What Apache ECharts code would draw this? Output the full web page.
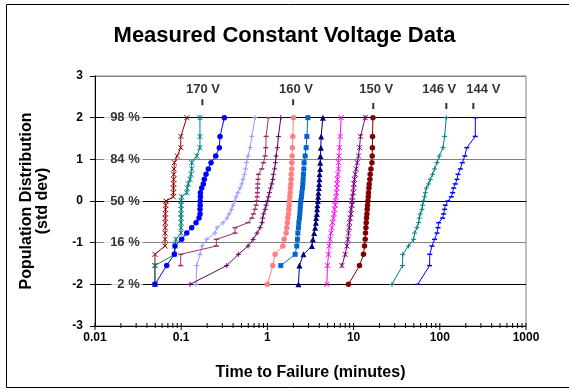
<!DOCTYPE html>
<html>
<head>
<meta charset="utf-8">
<script src="https://cdn.jsdelivr.net/npm/echarts@6/dist/echarts.min.js"></script>
<style>
  html, body { margin: 0; padding: 0; background: #fff; }
  #chart { width: 569px; height: 389px; }
</style>
</head>
<body>
<div id="chart"></div>
<script>
// rank positions (std dev) shared by every voltage set
var zPos = [-2.0, -1.55, -1.28, -1.08, -0.92, -0.77, -0.64, -0.52, -0.41, -0.31, -0.2, -0.1, 0,
            0.1, 0.2, 0.31, 0.41, 0.52, 0.64, 0.77, 0.92, 1.08, 1.28, 1.55, 2.0];

// failure times in minutes, one list per sample set (null = no point at that rank)
var t1  = [0.0496, 0.0496, 0.0496, 0.0648, 0.065, 0.065, 0.0652, 0.0652, 0.0655, 0.0655, 0.0658, 0.066, 0.0666, 0.081, 0.0812, 0.0814, 0.0816, 0.0818, 0.082, 0.0825, 0.0832, 0.09, 0.0987, 0.099, 0.116];
var t2  = [0.0496, 0.0496, 0.0847, 0.0847, 0.087, 0.0995, 0.0995, 0.0995, 0.0998, 0.0998, 0.1, 0.1, 0.1, 0.1013, 0.116, 0.1177, 0.1209, 0.1265, 0.13, 0.1324, 0.1324, 0.1514, 0.165, 0.165, 0.165];
var t3  = [0.0496, 0.0679, 0.0832, 0.0847, 0.1013, 0.1159, 0.1324, 0.1485, 0.161, 0.1654, 0.1654, 0.166, 0.166, 0.167, 0.167, 0.173, 0.1806, 0.1855, 0.1941, 0.2064, 0.2219, 0.2516, 0.277, 0.2822, 0.3167];
var t4  = [0.1485, 0.1514, 0.1654, 0.1744, 0.1978, 0.2469, 0.2604, 0.3058, 0.3404, 0.359, 0.3838, 0.3996, 0.4214, 0.4329, 0.4567, 0.4819, 0.5043, 0.5222, 0.5407, 0.5583, 0.5734, 0.5968, 0.6296, 0.6588, 0.7197];
var t5  = [null, 0.0987, 0.0987, 0.2557, 0.2557, 0.4214, 0.4214, 0.5968, 0.6588, 0.6877, 0.7197, 0.7393, 0.7532, 0.7593, 0.7654, 0.7695, 0.7736, 0.7798, 0.786, 0.861, 0.8987, 0.9403, 0.958, 0.9658, 1.027];
var t6  = [0.1265, 0.3377, 0.4604, 0.5968, 0.6823, 0.7593, 0.8227, 0.868, 0.8797, 0.9034, 0.9403, 0.9658, 1.005, 1.027, 1.055, 1.089, 1.125, 1.155, 1.174, 1.212, 1.239, 1.262, 1.306, 1.342, 1.431];
var t7  = [1.0, 1.155, 1.229, 1.51, 1.563, 1.649, 1.68, 1.707, 1.725, 1.754, 1.772, 1.786, 1.801, 1.82, 1.835, 1.849, 1.869, 1.885, 1.89, 1.92, 1.925, 1.936, 1.951, 1.972, 2.004];
var t8  = [null, 1.431, 2.098, 2.195, 2.231, 2.255, 2.291, 2.316, 2.353, 2.378, 2.397, 2.416, 2.442, 2.482, 2.509, 2.55, 2.577, 2.598, 2.619, 2.647, 2.668, 2.741, 2.815, 2.868, 2.946];
var t9  = [2.291, 2.353, 2.619, 3.28, 3.368, 3.487, 3.581, 3.649, 3.678, 3.747, 3.777, 3.808, 3.849, 3.881, 3.911, 3.954, 3.985, 4.017, 4.03, 4.093, 4.1, 4.126, 4.17, 4.204, 4.4];
var t10 = [4.897, 4.977, 5.112, 5.208, 5.349, 5.45, 5.597, 5.688, 5.842, 5.952, 6.0, 6.113, 6.162, 6.28, 6.331, 6.397, 6.449, 6.501, 6.572, 6.678, 6.69, 6.75, 6.859, 6.989, 7.178];
var t11 = [null, 7.313, 7.989, 8.361, 8.587, 8.726, 8.89, 8.962, 9.131, 9.303, 9.378, 9.556, 9.632, 9.71, 9.894, 9.972, 10.08, 10.24, 10.44, 10.72, 11.01, 11.4, 11.71, 12.03, 13.64];
var t12 = [8.726, 11.71, 13.03, 13.38, 13.64, 13.75, 13.9, 14.01, 14.12, 14.27, 14.39, 14.5, 14.66, 14.78, 14.9, 15.06, 15.18, 15.47, 15.59, 15.89, 16.32, 16.44, 16.5, 16.58, 16.76];
var t13 = [27.86, 36.98, 37.18, 43.41, 49.63, 50.97, 54.35, 56.73, 57.8, 59.36, 62.13, 63.13, 64.84, 66.6, 67.86, 69.69, 74.13, 77.58, 82.48, 87.01, 92.8, 98.67, 108.9, 113.7, 119.0];
var t14 = [55.53, 76.13, 76.5, 81.17, 87.01, 92.8, 95.3, 96.83, 107.8, 110.7, 113.7, 115.8, 124.5, 136.0, 140.8, 144.6, 151.4, 158.4, 162.7, 173.0, 182.5, 195.1, 205.9, 258, 258.4];

// annotations
var voltLabels = ['170 V', '160 V', '150 V', '146 V', '144 V'];
var voltLabelX = [0.179, 2.15, 18.3, 98.6, 320];
var voltTickX  = [0.176, 1.99, 16.9, 119, 245];
var voltTickZ  = [2.37, 2.37, 2.28, 2.28, 2.28];
var pctLabels = ['98 %', '84 %', '50 %', '16 %', '2 %'];
var pctZ = [2, 1, 0, -1, -2];
var xTickLabels = ['0.01', '0.1', '1', '10', '100', '1000'];

var FONT = '"Liberation Sans", Arial, sans-serif';
var X_MARK = 'path://M0,0L10,10M10,0L0,10';
var STAR_MARK = 'path://M0,0L10,10M10,0L0,10M5,0L5,10';
var PLUS_MARK = 'path://M5,0L5,10M0,5L10,5';

function pairs(times) {
    var out = [];
    for (var i = 0; i < times.length; i++) {
        if (times[i] != null) out.push([times[i], zPos[i]]);
    }
    return out;
}

function lineSeries(times, color, symbol, size) {
    var stroked = symbol.indexOf('path://') == 0;
    return {
        type: 'line',
        data: pairs(times),
        symbol: symbol,
        symbolSize: size,
        showAllSymbol: true,
        lineStyle: { color: color, width: 1 },
        itemStyle: { color: color, borderColor: color, borderWidth: stroked ? 1 : 0 },
        emphasis: { disabled: true },
        z: 3
    };
}

// minor/major tick values on the log axis
var xTicks = [];
for (var e = -2; e <= 3; e++) {
    for (var m = 1; m <= 9; m++) {
        if (e == 3 && m > 1) break;
        xTicks.push([m * Math.pow(10, e), m == 1 ? 1 : 0]);
    }
}

var chart = echarts.init(document.getElementById('chart'), null, { renderer: 'canvas' });

var series = [
    lineSeries(t1, '#990000', X_MARK, 5),
    lineSeries(t2, '#008080', STAR_MARK, 5),
    lineSeries(t3, '#0000FF', 'circle', 5.5),
    lineSeries(t4, '#9999FF', PLUS_MARK, 5),
    lineSeries(t5, '#993366', 'rect', [5, 1.5]),
    lineSeries(t6, '#660066', PLUS_MARK, 5),
    lineSeries(t7, '#FF8080', 'circle', 5.5),
    lineSeries(t8, '#0066CC', 'rect', 5),
    lineSeries(t9, '#000080', 'triangle', 6),
    lineSeries(t10, '#FF00FF', X_MARK, 5),
    lineSeries(t11, '#800080', STAR_MARK, 5),
    lineSeries(t12, '#800000', 'circle', 5.5),
    lineSeries(t13, '#008080', PLUS_MARK, 5),
    lineSeries(t14, '#0000FF', 'rect', [5, 1.5]),
    {
        // voltage captions
        type: 'scatter',
        symbol: 'rect',
        symbolSize: 1,
        itemStyle: { color: 'rgba(0,0,0,0)' },
        data: voltLabels.map(function (n, i) { return { name: n, value: [voltLabelX[i], 2.68] }; }),
        label: {
            show: true, position: 'inside', formatter: '{b}',
            color: '#000', fontFamily: FONT, fontWeight: 'bold', fontSize: 13
        },
        silent: true, z: 4
    },
    {
        // small marks under captions
        type: 'scatter',
        symbol: 'rect',
        symbolSize: [2, 6],
        itemStyle: { color: '#000' },
        data: voltTickX.map(function (x, i) { return [x, voltTickZ[i]]; }),
        silent: true, z: 4
    },
    {
        // percentile captions on grid lines
        type: 'scatter',
        symbol: 'rect',
        symbolSize: 1,
        itemStyle: { color: 'rgba(0,0,0,0)' },
        data: pctLabels.map(function (n, i) { return { name: n, value: [0.0363, pctZ[i]] }; }),
        label: {
            show: true, position: 'left', distance: 0, formatter: '{b}',
            backgroundColor: '#fff', padding: [1, 3, 1, 6],
            color: '#000', fontFamily: FONT, fontWeight: 'bold', fontSize: 13
        },
        silent: true, z: 2
    },
    {
        // x axis tick marks
        type: 'custom',
        data: xTicks,
        clip: false,
        silent: true,
        z: 5,
        renderItem: function (params, api) {
            var p = api.coord([api.value(0), -3]);
            var big = api.value(1) == 1;
            return {
                type: 'line',
                shape: { x1: p[0], y1: p[1] - 3, x2: p[0], y2: p[1] + (big ? 4 : 2) },
                style: { stroke: '#000', lineWidth: 1 }
            };
        }
    }
];

var option = {
    animation: false,
    backgroundColor: '#fff',
    title: {
        text: 'Measured Constant Voltage Data',
        left: 'center',
        top: 20,
        textStyle: { fontFamily: FONT, fontWeight: 'bold', fontSize: 22, color: '#000' }
    },
    graphic: [{
        type: 'rect', left: 4, top: 2, silent: true, z: -1,
        shape: { width: 620, height: 383 },
        style: { fill: 'none', stroke: '#000', lineWidth: 1 }
    }],
    grid: {
        left: 95, right: 43, top: 76, bottom: 63,
        show: true, borderColor: '#808080', borderWidth: 1, backgroundColor: 'transparent'
    },
    xAxis: {
        type: 'log',
        logBase: 10,
        min: 0.01,
        max: 1000,
        name: 'Time to Failure (minutes)',
        nameLocation: 'middle',
        nameGap: 39,
        nameTextStyle: { fontFamily: FONT, fontWeight: 'bold', fontSize: 16, color: '#000' },
        axisLine: { lineStyle: { color: '#000', width: 1 } },
        axisTick: { show: false },
        splitLine: { show: false },
        axisLabel: {
            margin: 6,
            color: '#000', fontFamily: FONT, fontWeight: 'bold', fontSize: 12,
            formatter: function (v) { return xTickLabels[Math.round(Math.log10(v)) + 2]; }
        }
    },
    yAxis: {
        type: 'value',
        min: -3,
        max: 3,
        interval: 1,
        name: 'Population Distribution\n(std dev)',
        nameLocation: 'middle',
        nameGap: 44,
        nameTextStyle: { fontFamily: FONT, fontWeight: 'bold', fontSize: 16, color: '#000', lineHeight: 16 },
        axisLine: { show: true, lineStyle: { color: '#000', width: 1 } },
        axisTick: { show: true, inside: false, length: 5, lineStyle: { color: '#000' } },
        axisLabel: { margin: 12, color: '#000', fontFamily: FONT, fontWeight: 'bold', fontSize: 12 },
        splitLine: {
            show: true,
            lineStyle: { color: ['#000', '#000', '#808080', '#000', '#808080', '#000', '#808080'], width: 1 }
        }
    },
    series: series
};

chart.setOption(option);
</script>
</body>
</html>
